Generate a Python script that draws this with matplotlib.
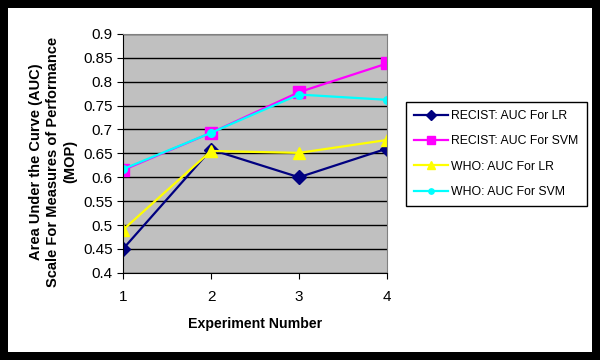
import matplotlib.pyplot as plt
from matplotlib.patches import Rectangle

plt.rcParams['font.family'] = ['Liberation Sans', 'DejaVu Sans']

experiments = [1, 2, 3, 4]
recist_lr = [0.45, 0.658, 0.60, 0.66]
recist_svm = [0.615, 0.693, 0.778, 0.838]
who_lr = [0.49, 0.655, 0.651, 0.678]
who_svm = [0.617, 0.693, 0.773, 0.762]
yticks = [0.4, 0.45, 0.5, 0.55, 0.6, 0.65, 0.7, 0.75, 0.8, 0.85, 0.9]

fig = plt.figure(figsize=(6, 3.6), dpi=100)
fig.patch.set_facecolor('black')
fig.patches.append(Rectangle((8 / 600, 8 / 360), 584 / 600, 344 / 360,
                             transform=fig.transFigure, facecolor='white',
                             edgecolor='none', zorder=-10))

ax = fig.add_axes([0.205, 0.242, 0.44, 0.664])
ax.set_facecolor('#c0c0c0')

ax.plot(experiments, recist_lr, c='#000080', linewidth=1.6, marker='D',
        markersize=7, label='RECIST: AUC For LR')
ax.plot(experiments, recist_svm, c='#ff00ff', linewidth=1.6, marker='s',
        markersize=9, label='RECIST: AUC For SVM')
ax.plot(experiments, who_lr, c='#ffff00', linewidth=1.6, marker='^',
        markersize=9, label='WHO: AUC For LR')
ax.plot(experiments, who_svm, c='#00ffff', linewidth=1.6, marker='o',
        markersize=5.5, label='WHO: AUC For SVM')

ax.set_xlim(1, 4)
ax.set_ylim(0.4, 0.9)
ax.set_xticks(experiments)
ax.set_yticks(yticks)
ax.set_yticklabels([f'{v:g}' for v in yticks])
ax.yaxis.grid(True, color='black', linewidth=1)
ax.set_axisbelow(True)
ax.tick_params(labelsize=11, direction='out', length=4, color='black')
ax.tick_params(axis='x', pad=8)
for side in ['top', 'right']:
    ax.spines[side].set_color('#808080')
for side in ['left', 'bottom']:
    ax.spines[side].set_color('black')

ax.set_xlabel('Experiment Number', fontsize=10.2, fontweight='bold', labelpad=10)
ax.set_ylabel('Area Under the Curve (AUC)\nScale For Measures of Performance\n(MOP)',
              fontsize=10.5, fontweight='bold', linespacing=1.25)
ax.yaxis.set_label_coords(-0.175, 0.465)

handles, labels = ax.get_legend_handles_labels()
leg = fig.legend(handles, labels, loc='upper left', bbox_to_anchor=(0.677, 0.717),
                 fontsize=8.8, frameon=True, fancybox=False, facecolor='white',
                 edgecolor='black', framealpha=1, labelspacing=1.1,
                 handlelength=2.8, borderpad=0.65, borderaxespad=0,
                 handletextpad=0.25, markerscale=0.7)
leg.get_frame().set_linewidth(1)

fig.savefig('out.png', dpi=100, facecolor=fig.get_facecolor())
